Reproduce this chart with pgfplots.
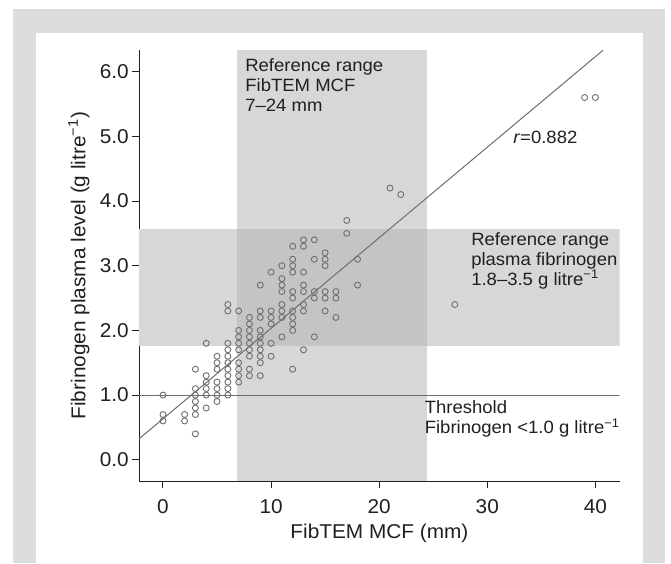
\documentclass[border=0pt]{standalone}
\usepackage{pgfplots}
\pgfplotsset{compat=1.18}
\usepackage{fontspec}
\setmainfont{Liberation Sans}[FakeStretch=1.04]
\definecolor{framegray}{HTML}{DCDDDF}
\definecolor{band}{HTML}{D6D7D9}
\definecolor{overlap}{HTML}{C3C4C6}
\definecolor{txt}{HTML}{231F20}
\definecolor{linec}{HTML}{6D6E70}
\pgfplotstableread{
x y
0 1.0
0 0.7
0 0.6
2 0.7
2 0.6
3 1.4
3 1.1
3 1.0
3 0.9
3 0.8
3 0.7
3 0.4
4 1.8
4 1.3
4 1.2
4 1.1
4 1.0
4 0.8
5 1.6
5 1.5
5 1.4
5 1.2
5 1.1
5 1.0
5 0.9
6 2.4
6 2.3
6 1.8
6 1.7
6 1.6
6 1.5
6 1.4
6 1.3
6 1.2
6 1.1
6 1.0
7 2.3
7 2.0
7 1.9
7 1.8
7 1.7
7 1.5
7 1.4
7 1.3
7 1.2
8 2.2
8 2.1
8 2.0
8 1.9
8 1.8
8 1.7
8 1.6
8 1.4
8 1.3
9 2.7
9 2.3
9 2.2
9 2.0
9 1.9
9 1.8
9 1.7
9 1.6
9 1.5
9 1.3
10 2.9
10 2.3
10 2.2
10 2.1
10 1.8
10 1.6
11 3.0
11 2.8
11 2.7
11 2.6
11 2.4
11 2.3
11 2.2
11 1.9
12 3.3
12 3.1
12 3.0
12 2.9
12 2.6
12 2.5
12 2.3
12 2.2
12 2.1
12 2.0
12 1.4
13 3.4
13 3.3
13 2.9
13 2.7
13 2.6
13 2.4
13 2.3
13 1.7
14 3.4
14 3.1
14 2.6
14 2.5
14 1.9
15 3.2
15 3.1
15 3.0
15 2.6
15 2.5
15 2.3
16 2.6
16 2.5
16 2.2
17 3.7
17 3.5
18 3.1
18 2.7
21 4.2
22 4.1
27 2.4
39 5.6
40 5.6
}\scatterdata
\begin{document}
\begin{tikzpicture}[x=1pt,y=1pt]
\fill[white] (0,0) rectangle (671,563);
\fill[framegray] (12.7,0) rectangle (665,553.5);
\fill[white] (36,0) rectangle (643,529.5);
\begin{axis}[
  at={(139.2pt,81.9pt)}, anchor=south west,
  scale only axis, width=480.5pt, height=430.8pt,
  xmin=-2.2, xmax=42.25, ymin=-0.33, ymax=6.33,
  axis x line*=bottom, axis y line*=left,
  axis line style={draw=txt, line width=1.1pt, -},
  xtick={0,10,20,30,40}, ytick={0,1,2,3,4,5,6},
  tick align=outside, major tick length=7pt,
  tick style={draw=txt, line width=1pt},
  /pgf/number format/assume math mode=true,
  tick label style={font=\fontsize{20}{22}\selectfont, text=txt},
  xticklabel style={yshift=-8pt},
  yticklabel style={/pgf/number format/fixed, /pgf/number format/fixed zerofill, /pgf/number format/precision=1},
  label style={font=\fontsize{20}{22}\selectfont, text=txt},
  xlabel={FibTEM MCF (mm)},
  ylabel={Fibrinogen plasma level (g litre\textsuperscript{\char"2212 1})},
  xlabel style={at={(axis description cs:0.5,-0.1205)}, anchor=center},
  ylabel style={at={(axis description cs:-0.1253,0.5)}, anchor=center},
]
\addplot[draw=none, fill=band] coordinates {(6.85,-0.33) (24.42,-0.33) (24.42,6.33) (6.85,6.33)} -- cycle;
\addplot[draw=none, fill=band] coordinates {(-2.2,1.752) (42.25,1.752) (42.25,3.572) (-2.2,3.572)} -- cycle;
\addplot[draw=none, fill=overlap] coordinates {(6.85,1.752) (24.42,1.752) (24.42,3.572) (6.85,3.572)} -- cycle;
\addplot[linec, line width=1pt] coordinates {(-2.2,1) (42.25,1)};
\addplot[linec, line width=1pt] coordinates {(-2.2,0.325) (40.7,6.33)};
\addplot[only marks, mark=o, mark size=3pt, mark options={draw=linec, line width=0.9pt}] table[x=x,y=y] {\scatterdata};
\node[anchor=north west, inner sep=0pt, align=left, font=\fontsize{17.8}{20}\selectfont, text=txt] at (axis cs:7.6,6.2) {Reference range\\FibTEM MCF\\7\char"2013 24 mm};
\node[anchor=west, inner sep=0pt, font=\fontsize{17.8}{20}\selectfont, text=txt] at (axis cs:32.4,4.98) {\textit{r}=0.882};
\node[anchor=north west, inner sep=0pt, align=left, font=\fontsize{17.8}{20}\selectfont, text=txt] at (axis cs:28.5,3.52) {Reference range\\plasma fibrinogen\\1.8\char"2013 3.5 g litre\textsuperscript{\char"2212 1}};
\node[anchor=north west, inner sep=0pt, align=left, font=\fontsize{17.8}{20}\selectfont, text=txt] at (axis cs:24.2,0.92) {Threshold\\Fibrinogen <1.0 g litre\textsuperscript{\char"2212 1}};
\end{axis}
\pgfresetboundingbox
\path (0,0) rectangle (671,563);
\end{tikzpicture}
\end{document}
